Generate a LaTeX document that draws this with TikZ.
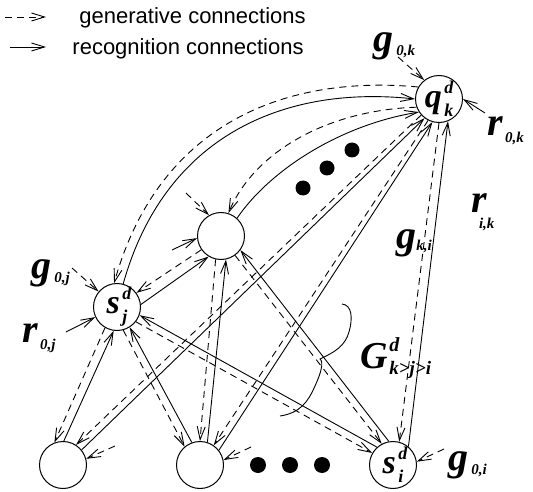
\documentclass[tikz,border=0pt]{standalone}
\usepackage{fontspec}
\setmainfont{Liberation Serif}
\newfontfamily\legfont{Liberation Sans}
\usetikzlibrary{arrows.meta}
\newcommand{\Lg}[1]{{\fontsize{40}{40}\selectfont #1}}
\newcommand{\Ls}[1]{{\fontsize{15}{15}\selectfont #1}}
\newcommand{\Nm}[1]{{\fontsize{34}{34}\selectfont #1}}
\newcommand{\Nx}[1]{{\fontsize{18}{18}\selectfont #1}}
\newcommand{\nlab}[3]{\Nm{#1}\kern2.5pt\makebox[0pt][l]{\raisebox{14pt}{\Nx{#2}}}\raisebox{-9pt}{\Nx{#3}}}
\begin{document}
\begin{tikzpicture}[x=1pt,y=-1pt,line width=0.9pt,
 nd/.style={circle,draw,line width=1pt,minimum size=47pt,inner sep=0pt,font=\bfseries\itshape},
 tip/.style={-{Straight Barb[length=13pt,width=8pt,line width=0.9pt]}},
 gen/.style={tip,dash pattern=on 7pt off 5pt},
 rec/.style={tip},
 lab/.style={inner sep=0pt,anchor=base west,font=\bfseries\itshape},
 leg/.style={inner sep=0pt,anchor=base west,font=\legfont\fontsize{22}{22}\selectfont}]
\useasboundingbox (0,0) rectangle (533,492);
% nodes
\node[nd] (q) at (439,99) {\nlab{q}{d}{k}};
\node[nd] (m) at (221,236) {};
\node[nd] (sj) at (117,307) {\nlab{s}{d}{j}};
\node[nd] (b1) at (63,465) {};
\node[nd] (b2) at (200,465) {};
\node[nd] (si) at (393,465) {\nlab{s}{d}{i}};
% arcs
\draw[gen] (q.150) .. controls (290,75) and (160,120) .. (sj.97);
\draw[rec] (sj.75) .. controls (165,135) and (285,85) .. (q.180);
\draw[gen] (q.200) .. controls (330,110) and (255,150) .. (m.72);
\draw[rec] (m.48) .. controls (270,170) and (340,125) .. (q.213);
% straight pairs
\draw[gen] (q.222) -- (b1.57);
\draw[rec] (b1.39) -- (q.233);
\draw[gen] (q.243) -- (b2.55);
\draw[rec] (b2.38) -- (q.254);
\draw[gen] (q.270) -- (si.75);
\draw[rec] (si.50) -- (q.292);
\draw[gen] (m.215) -- (sj.36);
\draw[rec] (sj.6) -- (m.239);
\draw[gen] (m.257) -- (b2.90);
\draw[rec] (b2.72) -- (m.282);
\draw[gen] (m.306) -- (si.118);
\draw[rec] (si.100) -- (m.324);
\draw[gen] (sj.240) -- (b1.111);
\draw[rec] (b1.88) -- (sj.262);
\draw[gen] (sj.285) -- (b2.130);
\draw[rec] (b2.110) -- (sj.302);
\draw[gen] (sj.322) -- (si.150);
\draw[rec] (si.132) -- (sj.340);
% short inputs
\coordinate (g0k) at (398,57); \draw[gen] (g0k) -- (q.128);
\coordinate (r0k) at (485,113); \draw[rec] (r0k) -- (q.0);
\coordinate (g0m) at (186,193); \draw[gen] (g0m) -- (m.120);
\coordinate (r0m) at (172,250); \draw[rec] (r0m) -- (m.185);
\coordinate (g0j) at (72,268); \draw[gen] (g0j) -- (sj.140);
\coordinate (r0j) at (66,332); \draw[rec] (r0j) -- (sj.205);
\coordinate (g0b1) at (115,446); \draw[gen] (g0b1) -- (b1.15);
\coordinate (g0b2) at (251,447); \draw[gen] (g0b2) -- (b2.12);
\coordinate (g0i) at (444,449); \draw[gen] (g0i) -- (si.8);
% labels
\node[lab] (lg0k) at (373,52) {\Lg{g}\kern3pt\raisebox{-4pt}{\Ls{0,k}}};
\node[lab] (lr0k) at (487,136) {\Lg{r}\kern2pt\raisebox{-7pt}{\Ls{0,k}}};
\node[lab] (lgki) at (396,248) {\Lg{g}\raisebox{-2pt}{\Ls{k,i}}};
\node[lab] (lrik) at (471,212) {\Lg{r}\kern-8pt\raisebox{-16pt}{\Ls{i,k}}};
\node[lab] (lg0j) at (31,278) {\Lg{g}\kern3pt\raisebox{-4pt}{\Ls{0,j}}};
\node[lab] (lr0j) at (22,342) {\Lg{r}\kern2pt\raisebox{-7pt}{\Ls{0,j}}};
\node[lab] (lG) at (360,368) {{\fontsize{38}{38}\selectfont G}\kern1.5pt\makebox[0pt][l]{\raisebox{17pt}{\fontsize{20}{20}\selectfont d}}\raisebox{-6pt}{\fontsize{19}{19}\selectfont k>j>i}};
\node[lab] (lg0i) at (448,470) {\Lg{g}\kern3pt\raisebox{-4pt}{\Ls{0,i}}};
% legend
\coordinate (la1) at (5,17); \coordinate (la2) at (46,17);
\draw[gen] (la1) -- (la2);
\node[leg] (lt1) at (79,24) {generative connections};
\coordinate (lb1) at (10,47); \coordinate (lb2) at (46,47);
\draw[rec] (lb1) -- (lb2);
\node[leg] (lt2) at (72,55) {recognition connections};
% dots
\fill (303,188) circle (7.5pt);
\fill (327,168) circle (7.5pt);
\fill (352,150) circle (7.5pt);
\fill (258,465) circle (8pt);
\fill (290,465) circle (8pt);
\fill (322,465) circle (8pt);
% brace
\draw (342,304) .. controls (352,305) and (353,318) .. (349,332)
  .. controls (345,346) and (335,352) .. (320,359)
  .. controls (324,362) and (321,373) .. (315,386)
  .. controls (308,402) and (300,413) .. (280,416);
\end{tikzpicture}
\end{document}
